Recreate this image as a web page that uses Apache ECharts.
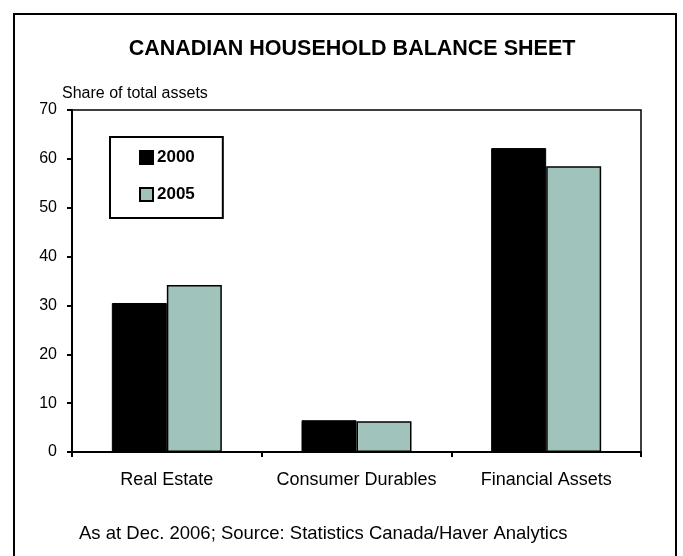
<!DOCTYPE html>
<html><head><meta charset="utf-8">
<script src="https://cdn.jsdelivr.net/npm/echarts@6/dist/echarts.min.js"></script>
<style>html,body{margin:0;padding:0;background:#fff}#c{width:683px;height:556px}</style>
</head><body><div id="c"></div>
<script>
const categories = ['Real Estate', 'Consumer Durables', 'Financial Assets'];
const seriesNames = ['2000', '2005'];
const values2000 = [30.5, 6.5, 62.2];
const values2005 = [34.2, 6.3, 58.5];
const yTicks = [0, 10, 20, 30, 40, 50, 60, 70];

const F = 'Liberation Sans, Arial, sans-serif';
const chart = echarts.init(document.getElementById('c'));
chart.setOption({
  backgroundColor: '#fff',
  animation: false,
  title: {
    text: 'CANADIAN HOUSEHOLD BALANCE SHEET',
    left: 347, top: 33, textAlign: 'center',
    textStyle: { fontFamily: F, fontSize: 21.5, fontWeight: 'bold', color: '#000' }
  },
  graphic: [
    { type: 'rect', shape: { x: 14, y: 14, width: 662, height: 560 },
      style: { fill: 'none', stroke: '#000', lineWidth: 2 }, z: -1 },
    { type: 'text', left: 79, top: 524,
      style: { text: 'As at Dec. 2006; Source: Statistics Canada/Haver Analytics',
               font: '18.5px ' + F, fill: '#000' } }
  ],
  legend: {
    data: seriesNames,
    orient: 'vertical',
    left: 110, top: 137,
    padding: [11.5, 28, 14.5, 29],
    itemGap: 19,
    itemWidth: 13, itemHeight: 13,
    icon: 'rect',
    borderColor: '#000', borderWidth: 2,
    textStyle: { fontFamily: F, fontSize: 17, fontWeight: 'bold', color: '#000', lineHeight: 18, padding: [0, 0, 0, -1] }
  },
  grid: { left: 72, right: 42, top: 110, bottom: 104, show: true, borderColor: '#000', borderWidth: 1.5 },
  xAxis: {
    type: 'category', data: categories,
    axisLine: { lineStyle: { color: '#000', width: 2 } },
    axisTick: { show: true, length: 5, lineStyle: { color: '#000', width: 2 } },
    axisLabel: { color: '#000', fontFamily: F, fontSize: 18, margin: 19, interval: 0 }
  },
  yAxis: {
    type: 'value', min: yTicks[0], max: yTicks[yTicks.length - 1], interval: 10,
    name: 'Share of total assets', nameLocation: 'end', nameGap: 8,
    nameTextStyle: { color: '#000', fontFamily: F, fontSize: 16, align: 'left', padding: [0, 0, 0, -10] },
    splitLine: { show: false },
    axisLine: { show: true, lineStyle: { color: '#000', width: 2 } },
    axisTick: { show: true, length: 5, lineStyle: { color: '#000', width: 2 } },
    axisLabel: { color: '#000', fontFamily: F, fontSize: 16, margin: 15 }
  },
  series: [
    { name: seriesNames[0], type: 'bar', data: values2000, barWidth: 55, barGap: '0%',
      itemStyle: { color: '#000', borderColor: '#000', borderWidth: 1 } },
    { name: seriesNames[1], type: 'bar', data: values2005, barWidth: 55,
      itemStyle: { color: '#A0C4BC', borderColor: '#000', borderWidth: 1.5 } }
  ]
});
</script></body></html>
